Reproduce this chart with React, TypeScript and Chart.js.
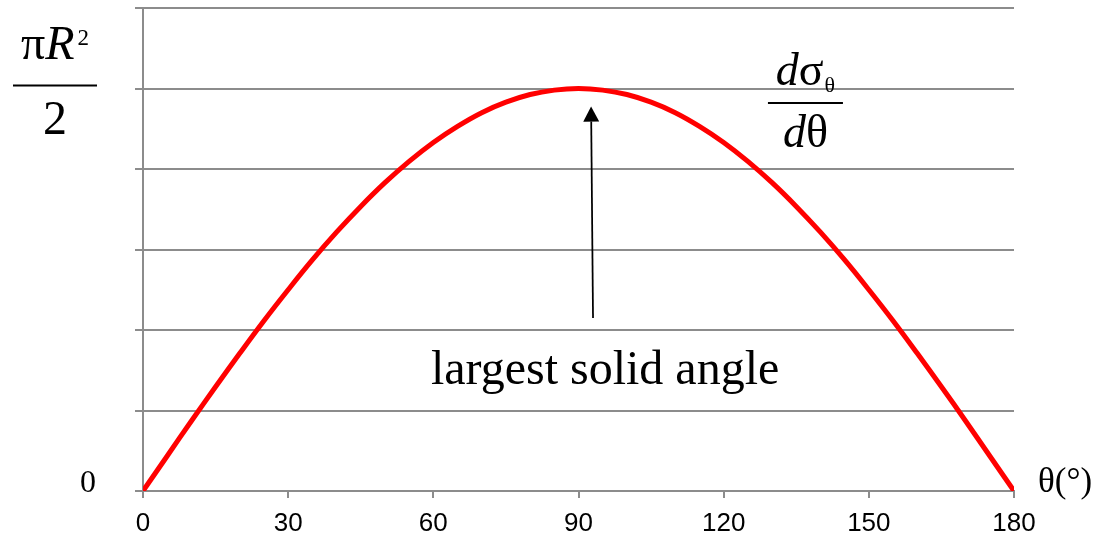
import { useEffect, useRef } from "react";
import { Chart, registerables } from "chart.js";

Chart.register(...registerables);

// Scattering angle θ in degrees
const thetaDeg = [
  0, 5, 10, 15, 20, 25, 30, 35, 40, 45, 50, 55, 60, 65, 70, 75, 80, 85, 90,
  95, 100, 105, 110, 115, 120, 125, 130, 135, 140, 145, 150, 155, 160, 165, 170, 175, 180,
];

// dσθ/dθ in units of πR²/2
const crossSection = [
  0, 0.087, 0.174, 0.259, 0.342, 0.423, 0.5, 0.574, 0.643, 0.707, 0.766, 0.819, 0.866, 0.906, 0.94, 0.966, 0.985, 0.996, 1.0,
  0.996, 0.985, 0.966, 0.94, 0.906, 0.866, 0.819, 0.766, 0.707, 0.643, 0.574, 0.5, 0.423, 0.342, 0.259, 0.174, 0.087, 0,
];

const xTickStep = 30;
const yMax = 1.2;
const yGridStep = 0.2;

// Arrow pointing at the peak: tail and head in data units
const arrowTail = { x: 93.0, y: 0.43 };
const arrowHead = { x: 92.6, y: 0.955 };

const SERIF = '"Liberation Serif", "Times New Roman", serif';
const SANS = '"Liberation Sans", Arial, sans-serif';
const GRID = "#8c8c8c";

const labelsPlugin = {
  id: "physicsLabels",
  afterDraw(chart: Chart) {
    const ctx = chart.ctx;
    const xs = chart.scales.x;
    const ys = chart.scales.y;
    ctx.save();
    ctx.fillStyle = "#000";
    ctx.strokeStyle = "#000";
    ctx.textBaseline = "alphabetic";

    // πR²/2 marking the peak value on the vertical axis
    const axisX = xs.left;
    const peakY = ys.getPixelForValue(1.0);
    const fracCx = axisX - 88;
    ctx.font = `48px ${SERIF}`;
    const wPi = ctx.measureText("π").width;
    ctx.font = `italic 48px ${SERIF}`;
    const wR = ctx.measureText("R").width;
    ctx.font = `23px ${SERIF}`;
    const w2 = ctx.measureText("2").width;
    const total = wPi + wR + 3 + w2;
    let cx = fracCx - total / 2;
    const numBase = peakY - 30;
    ctx.textAlign = "left";
    ctx.font = `48px ${SERIF}`;
    ctx.fillText("π", cx, numBase);
    cx += wPi;
    ctx.font = `italic 48px ${SERIF}`;
    ctx.fillText("R", cx, numBase);
    cx += wR + 3;
    ctx.font = `23px ${SERIF}`;
    ctx.fillText("2", cx, numBase - 14);
    ctx.lineWidth = 2;
    ctx.beginPath();
    ctx.moveTo(fracCx - 42, peakY - 3);
    ctx.lineTo(fracCx + 42, peakY - 3);
    ctx.stroke();
    ctx.textAlign = "center";
    ctx.font = `48px ${SERIF}`;
    ctx.fillText("2", fracCx, peakY + 45);

    // zero label on the vertical axis
    ctx.font = `32px ${SERIF}`;
    ctx.textAlign = "center";
    ctx.fillText("0", axisX - 55, ys.getPixelForValue(0) + 1);

    // θ(°) at the end of the horizontal axis
    ctx.textAlign = "left";
    ctx.font = `35px ${SERIF}`;
    ctx.fillText("θ(°)", xs.right + 24, ys.getPixelForValue(0) + 1);

    // dσθ/dθ curve label
    const fx = xs.getPixelForValue(136.9);
    const fy = ys.getPixelForValue(0.964);
    ctx.font = `italic 46px ${SERIF}`;
    const wd = ctx.measureText("d").width;
    ctx.font = `46px ${SERIF}`;
    const ws = ctx.measureText("σ").width;
    ctx.font = `22px ${SERIF}`;
    const wt = ctx.measureText("θ").width;
    const nTotal = wd + ws + wt + 1;
    let nx = fx - nTotal / 2;
    const nBase = fy - 18;
    ctx.font = `italic 46px ${SERIF}`;
    ctx.fillText("d", nx, nBase);
    nx += wd;
    ctx.font = `46px ${SERIF}`;
    ctx.fillText("σ", nx, nBase);
    nx += ws + 1;
    ctx.font = `22px ${SERIF}`;
    ctx.fillText("θ", nx, nBase + 7);
    ctx.lineWidth = 2;
    ctx.beginPath();
    ctx.moveTo(fx - 37.5, fy);
    ctx.lineTo(fx + 37.5, fy);
    ctx.stroke();
    ctx.font = `46px ${SERIF}`;
    const wth = ctx.measureText("θ").width;
    const dTotal = wd + wth;
    const dx = fx - dTotal / 2;
    ctx.font = `italic 46px ${SERIF}`;
    ctx.fillText("d", dx, fy + 44);
    ctx.font = `46px ${SERIF}`;
    ctx.fillText("θ", dx + wd, fy + 44);

    // arrow to the maximum
    const tx = xs.getPixelForValue(arrowTail.x);
    const ty = ys.getPixelForValue(arrowTail.y);
    const hx = xs.getPixelForValue(arrowHead.x);
    const hy = ys.getPixelForValue(arrowHead.y);
    const ang = Math.atan2(hy - ty, hx - tx);
    const headLen = 15;
    const headHalf = 8;
    const bx = hx - headLen * Math.cos(ang);
    const by = hy - headLen * Math.sin(ang);
    ctx.lineWidth = 1.75;
    ctx.beginPath();
    ctx.moveTo(tx, ty);
    ctx.lineTo(bx, by);
    ctx.stroke();
    ctx.beginPath();
    ctx.moveTo(hx, hy);
    ctx.lineTo(bx + headHalf * Math.sin(ang), by - headHalf * Math.cos(ang));
    ctx.lineTo(bx - headHalf * Math.sin(ang), by + headHalf * Math.cos(ang));
    ctx.closePath();
    ctx.fill();

    // annotation text
    ctx.textAlign = "center";
    ctx.font = `48px ${SERIF}`;
    ctx.fillText("largest solid angle", xs.getPixelForValue(95.5), ys.getPixelForValue(0.265));

    ctx.restore();
  },
};

export default function App() {
  const canvasRef = useRef<HTMLCanvasElement | null>(null);

  useEffect(() => {
    const canvas = canvasRef.current;
    if (!canvas) return;
    const chart = new Chart(canvas, {
      type: "line",
      data: {
        labels: thetaDeg,
        datasets: [
          {
            data: thetaDeg.map((t, i) => ({ x: t, y: crossSection[i] })),
            borderColor: "#ff0000",
            borderWidth: 5,
            pointRadius: 0,
            tension: 0.4,
            fill: false,
          },
        ],
      },
      options: {
        animation: false,
        responsive: false,
        maintainAspectRatio: false,
        layout: { padding: { top: 8, right: 83, left: 0, bottom: 0 } },
        plugins: {
          legend: { display: false },
          tooltip: { enabled: false },
        },
        scales: {
          x: {
            type: "linear",
            min: 0,
            max: 180,
            afterFit: (s: any) => {
              s.height = 48;
            },
            ticks: {
              stepSize: xTickStep,
              color: "#000",
              font: { family: SANS, size: 26 },
              padding: 10,
              maxRotation: 0,
            },
            grid: {
              display: true,
              drawOnChartArea: false,
              drawTicks: true,
              tickLength: 7,
              color: GRID,
              lineWidth: 2,
            },
            border: { display: true, color: GRID, width: 2 },
          },
          y: {
            min: 0,
            max: yMax,
            afterFit: (s: any) => {
              s.width = 143;
            },
            ticks: { stepSize: yGridStep, display: false },
            grid: {
              color: GRID,
              lineWidth: 2,
              drawTicks: true,
              tickLength: 8,
            },
            border: { display: true, color: GRID, width: 2 },
          },
        },
      },
      plugins: [labelsPlugin],
    });
    return () => chart.destroy();
  }, []);

  return (
    <div style={{ position: "absolute", left: 0, top: 0, width: 1097, height: 539, background: "#fff" }}>
      <canvas ref={canvasRef} width={1097} height={539} style={{ display: "block" }} />
    </div>
  );
}
